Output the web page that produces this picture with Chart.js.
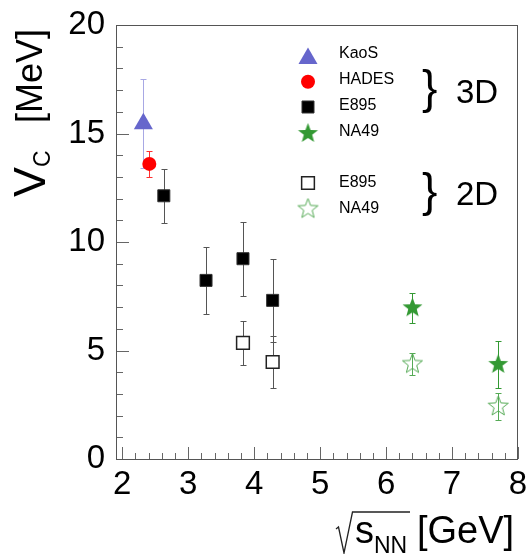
<!DOCTYPE html>
<html>
<head>
<meta charset="utf-8">
<title>Coulomb potential vs sqrt(sNN)</title>
<script src="https://cdn.jsdelivr.net/npm/chart.js"></script>
<style>
  html, body { margin: 0; padding: 0; background: #fff; }
  canvas { display: block; }
</style>
</head>
<body>
<canvas id="vc-chart" width="529" height="554"></canvas>
<script>
'use strict'

// collision energy sqrt(s_NN) [GeV]
const kaosE = [2.32];
const hadesE = [2.41];
const e895E = [2.63, 3.27, 3.83, 4.28];
const e895E2d = [3.83, 4.28];
const na49E = [6.4, 7.7];

// Coulomb potential V_C [MeV] and symmetric errors
const kaosVc = [15.45];
const kaosErr = [2.05];
const hadesVc = [13.6];
const hadesErr = [0.6];
const e895Vc3d = [12.13, 8.23, 9.23, 7.31];
const e895Err3d = [1.25, 1.55, 1.7, 1.92];
const e895Vc2d = [5.35, 4.47];
const e895Err2d = [1.03, 1.18];
const na49Vc3d = [6.97, 4.36];
const na49Err3d = [0.7, 1.1];
const na49Vc2d = [4.38, 2.42];
const na49Err2d = [0.52, 0.6];

// axis ticks
const xTicks = [2, 3, 4, 5, 6, 7, 8];
const yTicks = [0, 5, 10, 15, 20];

const FONT = '"Liberation Sans", Arial, sans-serif';
const GREEN = '#339933';

const pts = (xs, ys) => xs.map((x, i) => ({x: x, y: ys[i]}));

// five-pointed star, used as an image pointStyle
function makeStar(r, fill, stroke, lw) {
    const c = document.createElement('canvas');
    const s = Math.ceil(2 * r + 4);
    c.width = s;
    c.height = s;
    const g = c.getContext('2d');
    g.beginPath();
    for (let k = 0; k < 10; k++) {
        const rad = k % 2 ? r * 0.42 : r;
        const a = -Math.PI / 2 + k * Math.PI / 5;
        g.lineTo(s / 2 + rad * Math.cos(a), s / 2 + rad * Math.sin(a));
    }
    g.closePath();
    if (fill) { g.fillStyle = fill; g.fill(); }
    if (stroke) { g.strokeStyle = stroke; g.lineWidth = lw; g.stroke(); }
    return c;
}

const starFull = makeStar(10.5, GREEN, null, 0);
const starOpen = makeStar(10.5, null, '#55aa55', 1);

const datasets = [
    {label: 'KaoS', data: pts(kaosE, kaosVc), err: kaosErr, errColor: '#a8a8e4',
        pointStyle: 'triangle', pointRadius: 11, backgroundColor: '#6666cc', borderColor: '#6666cc', borderWidth: 0},
    {label: 'HADES', data: pts(hadesE, hadesVc), err: hadesErr, errColor: '#ff3030',
        pointStyle: 'circle', pointRadius: 7, backgroundColor: '#ff0000', borderColor: '#ff0000', borderWidth: 0},
    {label: 'E895', data: pts(e895E, e895Vc3d), err: e895Err3d, errColor: '#555',
        pointStyle: 'rect', pointRadius: 8.5, backgroundColor: '#000', borderColor: '#333', borderWidth: 1},
    {label: 'NA49', data: pts(na49E, na49Vc3d), err: na49Err3d, errColor: GREEN,
        pointStyle: starFull, pointRadius: 10, backgroundColor: GREEN, borderColor: GREEN, borderWidth: 0},
    {label: 'E895', data: pts(e895E2d, e895Vc2d), err: e895Err2d, errColor: '#555',
        pointStyle: 'rect', pointRadius: 9, backgroundColor: '#fff', borderColor: '#222', borderWidth: 1.5},
    {label: 'NA49', data: pts(na49E, na49Vc2d), err: na49Err2d, errColor: '#55aa55',
        pointStyle: starOpen, pointRadius: 10, backgroundColor: '#fff', borderColor: GREEN, borderWidth: 0}
];

// legend rows: marker centre and text centre (px)
const legendMarkY = [58.5, 81.7, 107, 133.5, 183, 209];
const legendTextY = [53.5, 79.5, 106, 131.5, 183, 208.5];

// vertical error bars with small caps, under the markers
const errorBars = {
    id: 'errorBars',
    beforeDatasetsDraw(chart) {
        const {ctx, scales: {x, y}} = chart;
        ctx.save();
        ctx.lineWidth = 1;
        chart.data.datasets.forEach(ds => {
            ctx.strokeStyle = ds.errColor;
            ds.data.forEach((p, i) => {
                const px = Math.round(x.getPixelForValue(p.x)) + 0.5;
                const top = Math.round(y.getPixelForValue(p.y + ds.err[i])) + 0.5;
                const bot = Math.round(y.getPixelForValue(p.y - ds.err[i])) + 0.5;
                ctx.beginPath();
                ctx.moveTo(px, top);
                ctx.lineTo(px, bot);
                ctx.moveTo(px - 3, top);
                ctx.lineTo(px + 3, top);
                ctx.moveTo(px - 3, bot);
                ctx.lineTo(px + 3, bot);
                ctx.stroke();
            });
        });
        ctx.restore();
    }
};

// frame, inward ticks, legend and axis titles
const decorations = {
    id: 'decorations',
    afterDraw(chart) {
        const {ctx, chartArea: a, scales: {x, y}} = chart;
        ctx.save();

        ctx.strokeStyle = '#666';
        ctx.lineWidth = 1;
        ctx.beginPath();
        for (let v = 1; v < 20; v++) {
            const py = Math.round(y.getPixelForValue(v)) + 0.5;
            ctx.moveTo(a.left, py);
            ctx.lineTo(a.left + (v % 5 === 0 ? 13 : 7), py);
        }
        for (let k = 0; k <= 30; k++) {
            const v = 2 + k * 0.2;
            const px = Math.round(x.getPixelForValue(v)) + 0.5;
            ctx.moveTo(px, a.bottom);
            ctx.lineTo(px, a.bottom - (k % 5 === 0 ? 12 : 6));
        }
        ctx.stroke();

        ctx.strokeStyle = '#555';
        ctx.strokeRect(Math.round(a.left) + 0.5, Math.round(a.top) + 0.5,
            Math.round(a.right - a.left) - 1, Math.round(a.bottom - a.top));

        // legend
        ctx.font = '16px ' + FONT;
        ctx.textBaseline = 'middle';
        ctx.textAlign = 'left';
        chart.data.datasets.forEach((ds, i) => {
            ctx.fillStyle = ds.backgroundColor;
            ctx.strokeStyle = ds.borderColor;
            ctx.lineWidth = ds.borderWidth;
            Chart.helpers.drawPoint(ctx, {
                pointStyle: ds.pointStyle, radius: ds.pointRadius,
                rotation: 0, borderWidth: ds.borderWidth
            }, 308, legendMarkY[i]);
            ctx.fillStyle = '#000';
            ctx.fillText(ds.label, 339, legendTextY[i]);
        });

        ctx.fillStyle = '#000';
        ctx.textBaseline = 'alphabetic';
        ctx.font = '46px ' + FONT;
        ctx.fillText('}', 422, 102.5);
        ctx.fillText('}', 422, 205.5);
        ctx.font = '33px ' + FONT;
        ctx.fillText('3D', 456, 102.5);
        ctx.fillText('2D', 456, 205);

        // y title: V_C [MeV]
        ctx.save();
        ctx.translate(45, 197);
        ctx.rotate(-Math.PI / 2);
        ctx.font = '45px ' + FONT;
        ctx.fillText('V', 0, 0);
        ctx.font = '23px ' + FONT;
        ctx.fillText('C', 30, 5);
        ctx.font = '36px ' + FONT;
        ctx.fillText('[MeV]', 74, -3);
        ctx.restore();

        // x title: sqrt(s_NN) [GeV]
        ctx.strokeStyle = '#222';
        ctx.lineWidth = 1.3;
        ctx.beginPath();
        ctx.moveTo(336, 529);
        ctx.lineTo(338.5, 527);
        ctx.lineTo(344, 553);
        ctx.lineTo(352.5, 512);
        ctx.lineTo(410, 512);
        ctx.stroke();
        ctx.font = '38px ' + FONT;
        ctx.fillText('s', 355, 543);
        ctx.font = '23px ' + FONT;
        ctx.fillText('NN', 374, 553);
        ctx.font = '38px ' + FONT;
        ctx.fillText('[GeV]', 417, 543);

        ctx.restore();
    }
};

// keep the plot frame exactly where the layout padding puts it
const noLabelPad = s => {
    s.paddingTop = 0;
    s.paddingBottom = 0;
    s.paddingLeft = 0;
    s.paddingRight = 0;
};

new Chart(document.getElementById('vc-chart'), {
    type: 'scatter',
    data: {datasets: datasets},
    options: {
        responsive: false,
        animation: false,
        events: [],
        layout: {padding: {left: 0, top: 25, right: 9, bottom: 0}},
        plugins: {legend: {display: false}, tooltip: {enabled: false}},
        scales: {
            x: {
                type: 'linear', min: 1.905, max: 8,
                afterBuildTicks: s => { s.ticks = xTicks.map(v => ({value: v})); },
                afterFit: s => { s.height = 95; noLabelPad(s); },
                grid: {display: false, drawTicks: false},
                border: {display: false},
                ticks: {padding: 6, color: '#000', maxRotation: 0, autoSkip: false,
                    font: {size: 33, family: FONT}}
            },
            y: {
                type: 'linear', min: 0, max: 20,
                afterBuildTicks: s => { s.ticks = yTicks.map(v => ({value: v})); },
                afterFit: s => { s.width = 116; noLabelPad(s); },
                grid: {display: false, drawTicks: false},
                border: {display: false},
                ticks: {padding: 11, color: '#000', font: {size: 33, family: FONT}}
            }
        }
    },
    plugins: [errorBars, decorations]
});
</script>
</body>
</html>
